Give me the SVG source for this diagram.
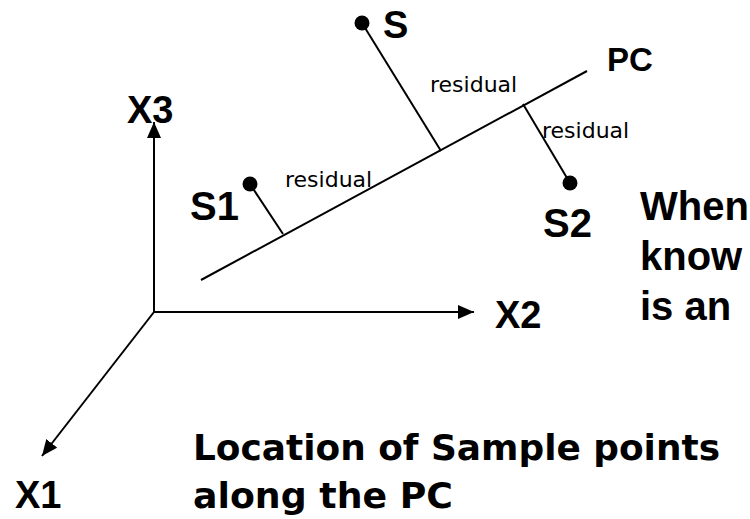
<svg xmlns="http://www.w3.org/2000/svg" width="750" height="519" viewBox="0 0 750 519">
<style>
.ln{stroke:#000;stroke-width:2;fill:none}
.pt{fill:#000}
.lb{font-family:"Liberation Sans",Arial,sans-serif;font-weight:bold;fill:#000}
.rs{font-family:"DejaVu Sans",Verdana,sans-serif;font-size:22px;fill:#000}
.tx{font-family:"DejaVu Sans",Verdana,sans-serif;font-weight:bold;font-size:36px;fill:#000}
</style>
<defs>
<marker id="ah" viewBox="0 0 16 14" refX="16" refY="7" markerWidth="16" markerHeight="14" markerUnits="userSpaceOnUse" orient="auto">
<path d="M0,0 L16,7 L0,14 Z" fill="#000"/>
</marker>
</defs>
<rect width="750" height="519" fill="#fff"/>
<g id="connectors">
<line class="ln" x1="154" y1="312" x2="154" y2="122" marker-end="url(#ah)"/>
<line class="ln" x1="154" y1="312" x2="474" y2="312" marker-end="url(#ah)"/>
<line class="ln" x1="154" y1="312" x2="42" y2="456" marker-end="url(#ah)"/>
<line class="ln" x1="201" y1="280" x2="587" y2="71"/>
<line class="ln" x1="362" y1="23" x2="441" y2="151"/>
<line class="ln" x1="523" y1="104" x2="570" y2="183"/>
<line class="ln" x1="250" y1="184" x2="283" y2="234"/>
</g>
<g id="axis-x3"><text class="lb" x="127" y="123" font-size="38">X3</text></g>
<g id="axis-x2"><text class="lb" x="495" y="328" font-size="38">X2</text></g>
<g id="axis-x1"><text class="lb" x="15" y="508" font-size="38">X1</text></g>
<g id="pc"><text class="lb" x="607" y="71" font-size="33">PC</text></g>
<g id="s"><circle class="pt" cx="362" cy="23" r="7.5"/><text class="lb" x="383" y="38" font-size="38">S</text></g>
<g id="s1"><circle class="pt" cx="250" cy="184" r="7.5"/><text class="lb" x="190" y="220" font-size="40">S1</text></g>
<g id="s2"><circle class="pt" cx="570" cy="183" r="7.5"/><text class="lb" x="543" y="237" font-size="40">S2</text></g>
<g id="residuals">
<text class="rs" x="430" y="92">residual</text>
<text class="rs" x="542" y="138">residual</text>
<text class="rs" x="285" y="187">residual</text>
</g>
<g id="note-right">
<text class="lb" x="640" y="220" font-size="40">When</text>
<text class="lb" x="640" y="270" font-size="40">know</text>
<text class="lb" x="640" y="320" font-size="40">is an</text>
</g>
<g id="note-bottom">
<text class="tx" x="193" y="460" textLength="527" lengthAdjust="spacingAndGlyphs">Location of Sample points</text>
<text class="tx" x="193" y="508" textLength="260" lengthAdjust="spacingAndGlyphs">along the PC</text>
</g>
</svg>
